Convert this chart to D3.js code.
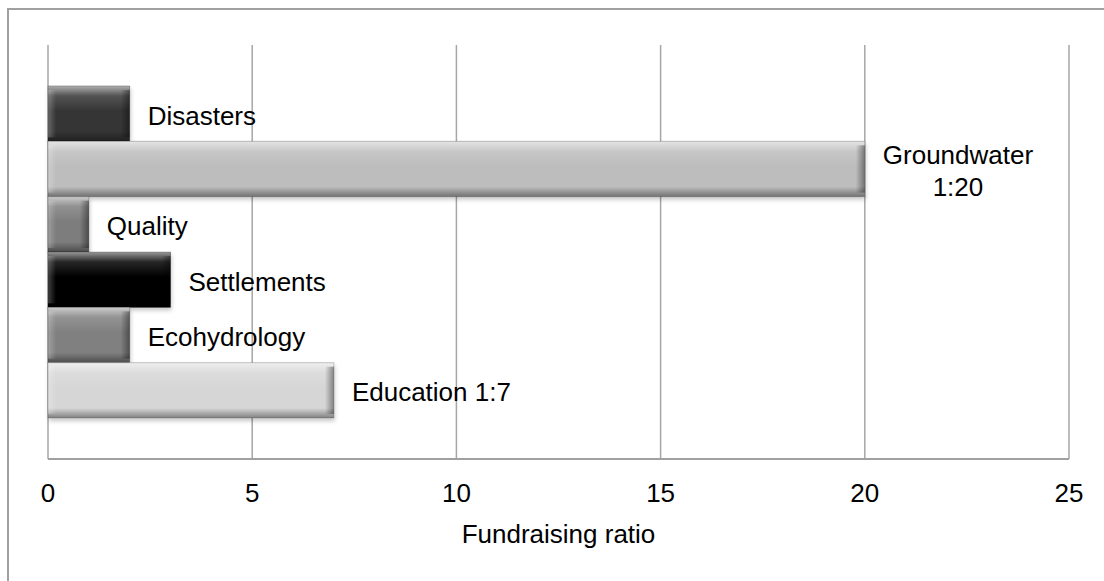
<!DOCTYPE html>
<html>
<head>
<meta charset="utf-8">
<title>Fundraising ratio</title>
<script src="https://cdn.jsdelivr.net/npm/d3@7"></script>
<style>
    body { margin: 0; background: #fff; }
    svg { display: block; font-family: "Liberation Sans", Arial, sans-serif; }
    .grid line { stroke: #a6a6a6; stroke-width: 1.5px; }
    .lbl { font-size: 26px; fill: #000; }
    .tick-lbl { font-size: 26px; fill: #000; text-anchor: middle; }
</style>
</head>
<body>
<script>
// data
var categories = ["Disasters", "Groundwater", "Quality", "Settlements", "Ecohydrology", "Education"];
var ratios = [2, 20, 1, 3, 2, 7];
var barLabels = [["Disasters"], ["Groundwater", "1:20"], ["Quality"], ["Settlements"], ["Ecohydrology"], ["Education 1:7"]];
var barColors = ["#343434", "#bdbdbd", "#7d7d7d", "#050505", "#808080", "#d6d6d6"];
var xTicks = [0, 5, 10, 15, 20, 25];
var axisTitle = "Fundraising ratio";

var width = 1104, height = 581;
var plotL = 48, plotR = 1069, plotT = 45, plotB = 459;

var svg = d3.select("body").append("svg")
    .attr("width", width)
    .attr("height", height);

var defs = svg.append("defs");

// bevel overlays
function grad(id, x2, y2, stops) {
    var g = defs.append("linearGradient").attr("id", id)
        .attr("x1", 0).attr("y1", 0).attr("x2", x2).attr("y2", y2);
    stops.forEach(function (s) {
        g.append("stop").attr("offset", s[0]).attr("stop-color", s[1]).attr("stop-opacity", s[2]);
    });
}
grad("topHi", 0, 1, [[0, "#fff", 0.6], [0.18, "#fff", 0.15], [0.45, "#fff", 0], [0.82, "#000", 0], [1, "#000", 0.4]]);
grad("sideR", 1, 0, [[0, "#000", 0], [1, "#000", 0.4]]);
grad("sideL", 1, 0, [[0, "#fff", 0.25], [1, "#fff", 0]]);

var shadow = defs.append("filter").attr("id", "shadow")
    .attr("x", "-5%").attr("y", "-10%").attr("width", "115%").attr("height", "140%");
shadow.append("feDropShadow").attr("dx", 1).attr("dy", 3).attr("stdDeviation", 2)
    .attr("flood-color", "#000").attr("flood-opacity", 0.22);

// outer chart frame
svg.append("rect")
    .attr("x", 8).attr("y", 9)
    .attr("width", width + 20).attr("height", height + 20)
    .attr("fill", "none").attr("stroke", "#a0a0a0").attr("stroke-width", 2);

var x = d3.scaleLinear().domain([0, 25]).range([plotL, plotR]);
var y = d3.scaleBand().domain(categories).range([plotT, plotB])
    .paddingInner(0).paddingOuter(0.74);

// gridlines
svg.append("g").attr("class", "grid")
    .selectAll("line")
    .data(xTicks)
    .enter().append("line")
    .attr("x1", function (d) { return x(d); })
    .attr("x2", function (d) { return x(d); })
    .attr("y1", plotT).attr("y2", plotB);

// bottom axis line
svg.append("line")
    .attr("x1", plotL).attr("x2", plotR)
    .attr("y1", plotB).attr("y2", plotB)
    .attr("stroke", "#a0a0a0").attr("stroke-width", 2);

var data = categories.map(function (c, i) {
    return { name: c, value: ratios[i], lines: barLabels[i], color: barColors[i] };
});

var bar = svg.selectAll(".bar")
    .data(data)
    .enter().append("g")
    .attr("class", "bar");

bar.append("rect")
    .attr("x", x(0))
    .attr("y", function (d) { return y(d.name); })
    .attr("width", function (d) { return x(d.value) - x(0); })
    .attr("height", y.bandwidth())
    .attr("fill", function (d) { return d.color; })
    .attr("filter", "url(#shadow)");

bar.append("rect")
    .attr("x", x(0))
    .attr("y", function (d) { return y(d.name); })
    .attr("width", function (d) { return x(d.value) - x(0); })
    .attr("height", y.bandwidth())
    .attr("fill", "url(#topHi)");

bar.append("rect")
    .attr("x", function (d) { return x(d.value) - 9; })
    .attr("y", function (d) { return y(d.name) + 4; })
    .attr("width", 9)
    .attr("height", y.bandwidth() - 8)
    .attr("fill", "url(#sideR)");

bar.append("rect")
    .attr("x", x(0))
    .attr("y", function (d) { return y(d.name) + 4; })
    .attr("width", 8)
    .attr("height", y.bandwidth() - 8)
    .attr("fill", "url(#sideL)");

bar.append("rect")
    .attr("x", x(0))
    .attr("y", function (d) { return y(d.name); })
    .attr("width", function (d) { return x(d.value) - x(0); })
    .attr("height", y.bandwidth())
    .attr("fill", "none")
    .attr("stroke", "#000").attr("stroke-opacity", 0.2).attr("stroke-width", 1);

// data labels to the right of each bar
var lineH = 32;
bar.append("text")
    .attr("class", "lbl")
    .each(function (d) {
        var t = d3.select(this);
        var x0 = x(d.value) + 18;
        var cy = y(d.name) + y.bandwidth() / 2 + 11;
        var n = d.lines.length;
        var spans = d.lines.map(function (s, k) {
            return t.append("tspan").text(s)
                .attr("y", cy + (k - (n - 1) / 2) * lineH);
        });
        if (n === 1) {
            spans[0].attr("x", x0);
        } else {
            var w = d3.max(spans, function (s) { return s.node().getComputedTextLength(); });
            spans.forEach(function (s) {
                s.attr("x", x0 + w / 2).attr("text-anchor", "middle");
            });
        }
    });

// tick labels
svg.selectAll(".tick-lbl")
    .data(xTicks)
    .enter().append("text")
    .attr("class", "tick-lbl")
    .attr("x", function (d) { return x(d); })
    .attr("y", plotB + 43)
    .text(function (d) { return d; });

svg.append("text")
    .attr("class", "tick-lbl")
    .attr("x", (plotL + plotR) / 2)
    .attr("y", 543)
    .text(axisTitle);
</script>
</body>
</html>
